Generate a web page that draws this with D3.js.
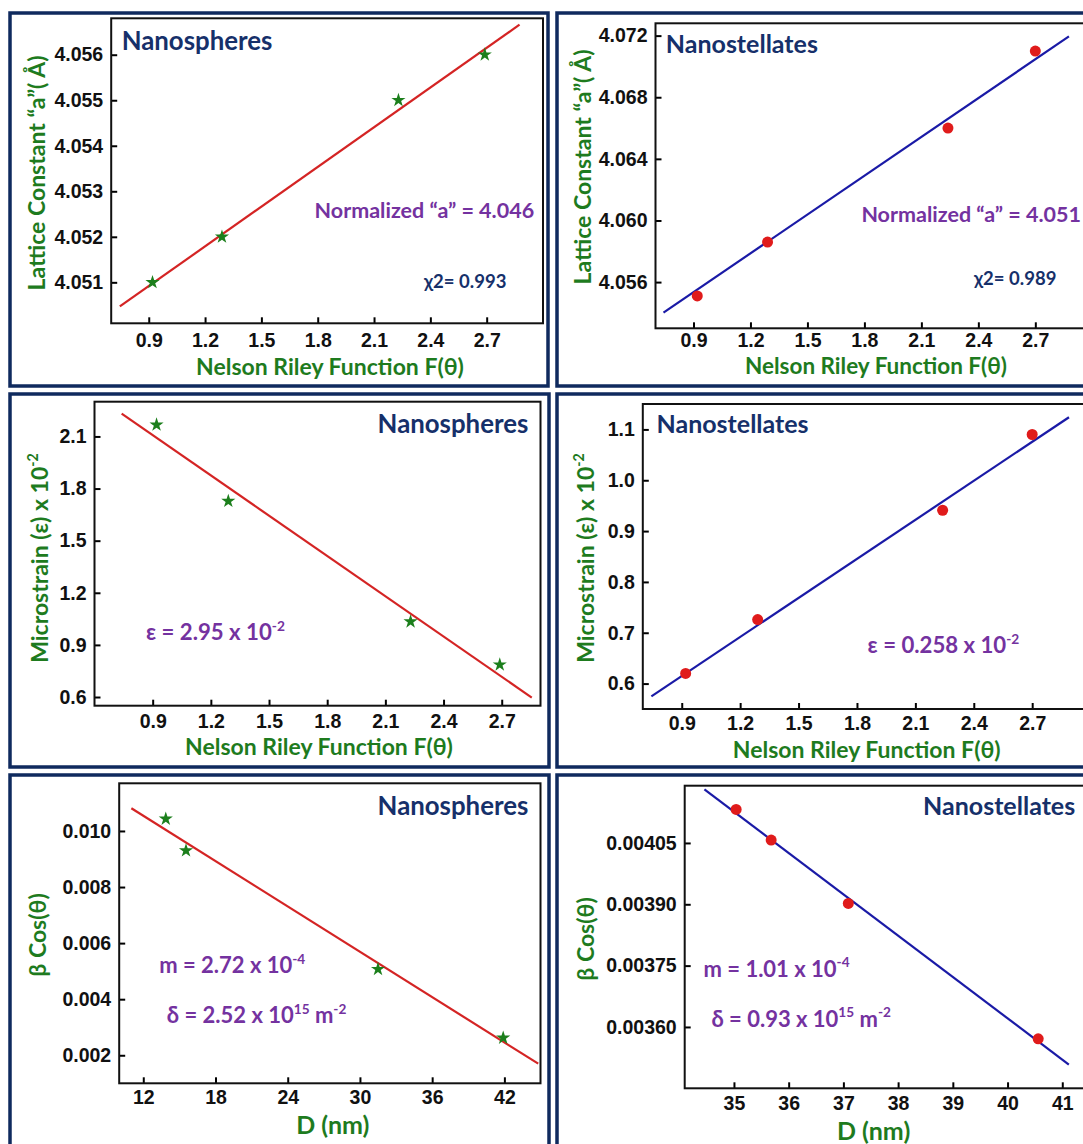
<!DOCTYPE html>
<html><head><meta charset="utf-8">
<script src="https://cdn.jsdelivr.net/npm/d3@7"></script>
<style>body{margin:0;background:#fff;overflow:hidden} svg{display:block}</style>
</head><body>
<svg id="c" width="1083" height="1144"></svg>
<script>
// ---------- DATA ----------
const nrfTicks = [0.9, 1.2, 1.5, 1.8, 2.1, 2.4, 2.7];

// Lattice constant vs Nelson-Riley function
const nrfSpheres = [0.92, 1.29, 2.23, 2.69];
const latticeSpheres = [4.051, 4.052, 4.055, 4.056];
const latticeSpheresFitX = [0.746, 2.875];
const latticeSpheresFitY = [4.05047, 4.05666];
const latticeSpheresTicks = [4.051, 4.052, 4.053, 4.054, 4.055, 4.056];

const nrfStellates = [0.92, 1.29, 2.24, 2.70];
const latticeStellates = [4.0551, 4.0586, 4.0660, 4.0710];
const latticeStellatesFitX = [0.742, 2.877];
const latticeStellatesFitY = [4.05402, 4.07195];
const latticeStellatesTicks = [4.056, 4.060, 4.064, 4.068, 4.072];

// Microstrain vs Nelson-Riley function
const strainSpheres = [2.167, 1.728, 1.034, 0.786];
const strainSpheresFitX = [0.740, 2.855];
const strainSpheresFitY = [2.231, 0.597];
const strainSpheresTicks = [0.6, 0.9, 1.2, 1.5, 1.8, 2.1];

const strainStellates = [0.620, 0.726, 0.941, 1.090];
const strainStellatesFitX = [0.744, 2.889];
const strainStellatesFitY = [0.575, 1.124];
const strainStellatesTicks = [0.6, 0.7, 0.8, 0.9, 1.0, 1.1];

// beta cos(theta) vs D
const dSpheres = [13.87, 15.55, 31.5, 41.9];
const bcosSpheres = [0.01043, 0.0093, 0.00507, 0.00262];
const bcosSpheresFitX = [11.01, 44.81];
const bcosSpheresFitY = [0.01081, 0.0017];
const dSpheresTicks = [12, 18, 24, 30, 36, 42];
const bcosSpheresTicks = [0.002, 0.004, 0.006, 0.008, 0.010];

const dStellates = [35.04, 35.68, 37.09, 40.56];
const bcosStellates = [0.004132, 0.004057, 0.003902, 0.003571];
const bcosStellatesFitX = [34.46, 41.12];
const bcosStellatesFitY = [0.004181, 0.003508];
const dStellatesTicks = [35, 36, 37, 38, 39, 40, 41];
const bcosStellatesTicks = [0.00360, 0.00375, 0.00390, 0.00405];

// ---------- STYLE ----------
const NAVY = '#0f2a5e', GREEN = '#1e7b1e', PURPLE = '#7432a0', TITLE = '#16306a';
const RED = '#e01b1b', LINERED = '#d42424', BLUE = '#1a1aa6', STARG = '#1c7f1c';
const SANS = 'Lato, "Open Sans", sans-serif';
const ARIAL = '"Liberation Sans", Arial, sans-serif';

const svg = d3.select('#c');

function richText(g, x, y, segs, opt) {
  const fs = opt.size;
  const t = g.append('text').attr('x', x).attr('y', y)
    .attr('font-family', SANS).attr('font-weight', 'bold')
    .attr('font-size', fs).attr('fill', opt.color)
    .attr('text-anchor', opt.anchor || 'start');
  if (opt.transform) t.attr('transform', opt.transform);
  let raised = false;
  segs.forEach(s => {
    const sp = t.append('tspan').text(s.t);
    if (s.sup && !raised) { sp.attr('dy', -0.42 * fs).attr('font-size', 0.62 * fs); raised = true; }
    else if (s.sup) { sp.attr('font-size', 0.62 * fs); }
    else if (raised) { sp.attr('dy', 0.42 * fs); raised = false; }
  });
  return t;
}

function panel(p) {
  const g = svg.append('g');
  g.append('rect')
    .attr('x', p.frame[0]).attr('y', p.frame[1])
    .attr('width', p.frame[2] - p.frame[0]).attr('height', p.frame[3] - p.frame[1])
    .attr('fill', 'none').attr('stroke', NAVY).attr('stroke-width', 3.5);

  const x = d3.scaleLinear().domain(p.xdom).range([p.box[0], p.box[2]]);
  const y = d3.scaleLinear().domain(p.ydom).range([p.box[3], p.box[1]]);

  const xa = d3.axisBottom(x).tickValues(p.xticks).tickFormat(d3.format(p.xfmt))
    .tickSizeInner(-6).tickSizeOuter(0).tickPadding(p.xpad);
  const ya = d3.axisLeft(y).tickValues(p.yticks).tickFormat(d3.format(p.yfmt))
    .tickSizeInner(-6).tickSizeOuter(0).tickPadding(8);

  const gx = g.append('g').attr('transform', `translate(0,${p.box[3]})`).call(xa);
  const gy = g.append('g').attr('transform', `translate(${p.box[0]},0)`).call(ya);
  [gx, gy].forEach(a => {
    a.select('.domain').remove();
    a.selectAll('.tick line').attr('stroke', '#000').attr('stroke-width', 2);
    a.selectAll('.tick text').attr('font-family', ARIAL).attr('font-weight', 'bold')
      .attr('font-size', 19.5).attr('fill', '#111');
  });

  g.append('rect')
    .attr('x', p.box[0]).attr('y', p.box[1])
    .attr('width', p.box[2] - p.box[0]).attr('height', p.box[3] - p.box[1])
    .attr('fill', 'none').attr('stroke', '#111').attr('stroke-width', 2);

  // fit line
  const fit = p.fitX.map((v, i) => [v, p.fitY[i]]);
  g.append('path').datum(fit)
    .attr('d', d3.line().x(d => x(d[0])).y(d => y(d[1])))
    .attr('fill', 'none').attr('stroke', p.lineColor).attr('stroke-width', 2.2);

  // points
  const pts = p.xs.map((v, i) => [v, p.ys[i]]);
  if (p.marker === 'star') {
    g.selectAll('path.pt').data(pts).join('path').attr('class', 'pt')
      .attr('d', d3.symbol(d3.symbolStar, 62))
      .attr('transform', d => `translate(${x(d[0])},${y(d[1])})`)
      .attr('fill', STARG);
  } else {
    g.selectAll('circle.pt').data(pts).join('circle').attr('class', 'pt')
      .attr('cx', d => x(d[0])).attr('cy', d => y(d[1])).attr('r', 5.5)
      .attr('fill', RED);
  }

  // panel title
  richText(g, p.title[1], p.title[2], [{ t: p.title[0] }],
    { size: p.title[4], color: TITLE, anchor: p.title[3] });
  // x title
  richText(g, p.xt[1], p.xt[2], [{ t: p.xt[0] }], { size: p.xt[3], color: GREEN, anchor: 'middle' });
  // y title
  const yt = richText(g, 0, 0, p.yt[0], { size: 23, color: GREEN, anchor: 'middle',
    transform: `translate(${p.yt[1]},${p.yt[2]}) rotate(-90)` });
  yt.attr('dy', '0.35em');
  // annotations
  p.notes.forEach(n => richText(g, n.x, n.y, n.segs, { size: n.size, color: n.color }));
}

const nrfTitle = 'Nelson Riley Function F(\u03b8)';
const latTitle = [{ t: 'Lattice Constant \u201ca\u201d( \u00c5)' }];
const strTitle = [{ t: 'Microstrain (\u03b5) x 10' }, { t: '-2', sup: true }];
const bTitle = [{ t: '\u03b2 Cos(\u03b8)' }];

panel({
  frame: [10, 13, 548, 386], box: [111.2, 18.3, 543, 323.3],
  xdom: [0.7, 3.0], ydom: [4.0501, 4.0568],
  xticks: nrfTicks, xfmt: '.1f', yticks: latticeSpheresTicks, yfmt: '.3f', xpad: 10,
  xs: nrfSpheres, ys: latticeSpheres, fitX: latticeSpheresFitX, fitY: latticeSpheresFitY,
  marker: 'star', lineColor: LINERED,
  title: ['Nanospheres', 121.7, 50, 'start', 25.8],
  xt: [nrfTitle, 330, 374.5, 23], yt: [latTitle, 36.5, 173],
  notes: [
    { x: 314.6, y: 218, size: 21.5, color: PURPLE, segs: [{ t: 'Normalized \u201ca\u201d = 4.046' }] },
    { x: 424, y: 288, size: 18.5, color: TITLE, segs: [{ t: '\u03c72= 0.993' }] }
  ]
});

panel({
  frame: [557, 13, 1110, 386], box: [655.5, 23.3, 1092.3, 328.3],
  xdom: [0.7, 3.0], ydom: [4.053, 4.0728],
  xticks: nrfTicks, xfmt: '.1f', yticks: latticeStellatesTicks, yfmt: '.3f', xpad: 5,
  xs: nrfStellates, ys: latticeStellates, fitX: latticeStellatesFitX, fitY: latticeStellatesFitY,
  marker: 'circle', lineColor: BLUE,
  title: ['Nanostellates', 665.8, 53, 'start', 25],
  xt: [nrfTitle, 876, 373.5, 22.5], yt: [latTitle, 582.7, 167],
  notes: [
    { x: 861.4, y: 222, size: 21.5, color: PURPLE, segs: [{ t: 'Normalized \u201ca\u201d = 4.051' }] },
    { x: 974, y: 285, size: 18.5, color: TITLE, segs: [{ t: '\u03c72= 0.989' }] }
  ]
});

panel({
  frame: [10, 394, 549, 767], box: [94.5, 401.7, 540.5, 705.7],
  xdom: [0.6, 2.9], ydom: [0.55, 2.3],
  xticks: nrfTicks, xfmt: '.1f', yticks: strainSpheresTicks, yfmt: '.1f', xpad: 8,
  xs: nrfSpheres, ys: strainSpheres, fitX: strainSpheresFitX, fitY: strainSpheresFitY,
  marker: 'star', lineColor: LINERED,
  title: ['Nanospheres', 528.3, 432.7, 'end', 25.8],
  xt: [nrfTitle, 319, 755, 23], yt: [strTitle, 40, 558],
  notes: [
    { x: 146, y: 640, size: 22.2, color: PURPLE, segs: [{ t: '\u03b5 = 2.95 x 10' }, { t: '-2', sup: true }] }
  ]
});

panel({
  frame: [557, 394, 1110, 767], box: [642.8, 404, 1090.6, 709],
  xdom: [0.7, 3.0], ydom: [0.55, 1.15],
  xticks: nrfTicks, xfmt: '.1f', yticks: strainStellatesTicks, yfmt: '.1f', xpad: 7,
  xs: nrfStellates, ys: strainStellates, fitX: strainStellatesFitX, fitY: strainStellatesFitY,
  marker: 'circle', lineColor: BLUE,
  title: ['Nanostellates', 656.5, 433.3, 'start', 25],
  xt: [nrfTitle, 866.7, 757.5, 23], yt: [strTitle, 585.5, 558],
  notes: [
    { x: 867.6, y: 653.3, size: 22.2, color: PURPLE, segs: [{ t: '\u03b5 = 0.258 x 10' }, { t: '-2', sup: true }] }
  ]
});

panel({
  frame: [10, 775, 549, 1160], box: [119.2, 783.3, 540.5, 1083.3],
  xdom: [10, 45], ydom: [0.001, 0.0117],
  xticks: dSpheresTicks, xfmt: 'd', yticks: bcosSpheresTicks, yfmt: '.3f', xpad: 7,
  xs: dSpheres, ys: bcosSpheres, fitX: bcosSpheresFitX, fitY: bcosSpheresFitY,
  marker: 'star', lineColor: LINERED,
  title: ['Nanospheres', 528.3, 815, 'end', 25.8],
  xt: ['D (nm)', 332.8, 1134, 25], yt: [bTitle, 38.2, 935],
  notes: [
    { x: 159.2, y: 973.3, size: 22, color: PURPLE, segs: [{ t: 'm = 2.72 x 10' }, { t: '-4', sup: true }] },
    { x: 166.8, y: 1023.3, size: 22, color: PURPLE, segs: [{ t: '\u03b4 = 2.52 x 10' }, { t: '15', sup: true }, { t: ' m' }, { t: '-2', sup: true }] }
  ]
});

panel({
  frame: [557, 775, 1110, 1160], box: [684.7, 785.7, 1117, 1088.3],
  xdom: [34.1, 42], ydom: [0.00345, 0.00419],
  xticks: dStellatesTicks, xfmt: 'd', yticks: bcosStellatesTicks, yfmt: '.5f', xpad: 8,
  xs: dStellates, ys: bcosStellates, fitX: bcosStellatesFitX, fitY: bcosStellatesFitY,
  marker: 'circle', lineColor: BLUE,
  title: ['Nanostellates', 1075.2, 815, 'end', 25],
  xt: ['D (nm)', 873.6, 1139.5, 25], yt: [bTitle, 586.2, 939],
  notes: [
    { x: 703.5, y: 976.7, size: 22, color: PURPLE, segs: [{ t: 'm = 1.01 x 10' }, { t: '-4', sup: true }] },
    { x: 711.4, y: 1026.7, size: 22, color: PURPLE, segs: [{ t: '\u03b4 = 0.93 x 10' }, { t: '15', sup: true }, { t: ' m' }, { t: '-2', sup: true }] }
  ]
});
</script>
</body></html>
